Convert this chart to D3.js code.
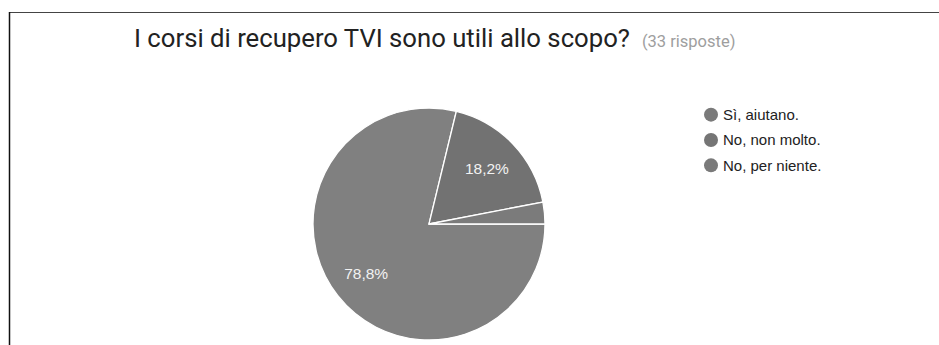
<!DOCTYPE html>
<html><head><meta charset="utf-8">
<script src="https://cdn.jsdelivr.net/npm/d3@7"></script>
<style>body{margin:0;background:#fff;}svg{display:block;}</style>
</head><body>
<script>
const categories = ["Sì, aiutano.", "No, non molto.", "No, per niente."];
const counts = [26, 6, 1];
const labels = ["78,8%", "18,2%", ""];
const colors = ["#808080", "#727272", "#7b7b7b"];
const legendColors = ["#7a7a7a", "#757575", "#7a7a7a"];
const title = "I corsi di recupero TVI sono utili allo scopo?";
const subtitle = "(33 risposte)";

const W = 939, H = 345;
const svg = d3.select("body").append("svg").attr("width", W).attr("height", H);

// frame lines
svg.append("line").attr("x1", 9).attr("x2", W).attr("y1", 12.5).attr("y2", 12.5)
  .attr("stroke", "#444").attr("stroke-width", 1);
svg.append("line").attr("x1", 9.5).attr("x2", 9.5).attr("y1", 12).attr("y2", H)
  .attr("stroke", "#111").attr("stroke-width", 1.5);

// title
const t = svg.append("text").attr("x", 134).attr("y", 47)
  .attr("font-family", "Roboto").attr("font-size", 25.7).attr("fill", "#222");
t.append("tspan").text(title);
t.append("tspan").attr("dx", 12).attr("font-size", 16.5).attr("fill", "#9e9e9e").text(subtitle);

// pie
const cx = 429, cy = 224, R = 116;
const pie = d3.pie().sort(null).startAngle(Math.PI / 2).endAngle(Math.PI / 2 + 2 * Math.PI);
const arcs = pie(counts);
const arc = d3.arc().innerRadius(0).outerRadius(R);
const labelArc = d3.arc().innerRadius(80).outerRadius(80);
const g = svg.append("g").attr("transform", `translate(${cx},${cy})`);
g.selectAll("path").data(arcs).join("path")
  .attr("d", arc).attr("fill", (d, i) => colors[i])
  .attr("stroke", "#fff").attr("stroke-width", 1.3);
g.selectAll("text").data(arcs).join("text")
  .attr("transform", d => `translate(${labelArc.centroid(d)})`)
  .attr("text-anchor", "middle").attr("dy", "0.35em")
  .attr("font-family", "Liberation Sans, Arial").attr("font-size", 15.5)
  .attr("fill", "#f2f2f2").text((d, i) => labels[i]);

// legend
const y = d3.scaleBand().domain(categories).range([102, 178]);
const lg = svg.append("g");
const items = lg.selectAll("g").data(categories).join("g")
  .attr("transform", d => `translate(711,${y(d) + y.bandwidth() / 2})`);
items.append("circle").attr("r", 7).attr("fill", (d, i) => legendColors[i]);
items.append("text").attr("x", 12).attr("dy", "0.35em")
  .attr("font-family", "Liberation Sans, Arial").attr("font-size", 15)
  .attr("fill", "#222").text(d => d);
</script>
</body></html>
